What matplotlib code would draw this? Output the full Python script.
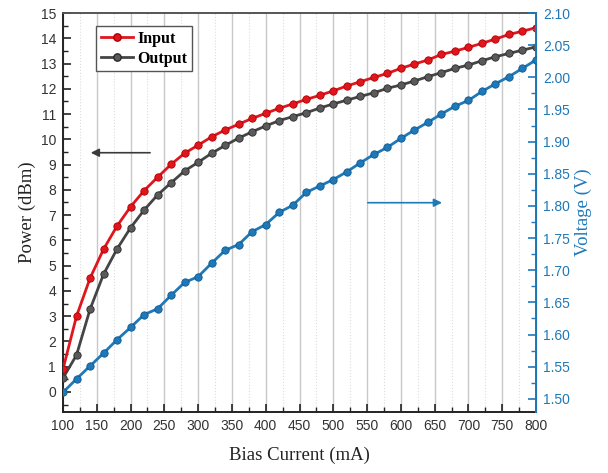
import numpy as np
import matplotlib
matplotlib.use('Agg')
import matplotlib.pyplot as plt
from matplotlib.ticker import MultipleLocator, FormatStrFormatter
from matplotlib.lines import Line2D

# data
current = list(range(100, 801, 20))

power_in = [0.9, 3.0, 4.5, 5.65, 6.57, 7.33, 7.97, 8.5, 9.01, 9.45,
            9.77, 10.1, 10.37, 10.6, 10.83, 11.03, 11.23, 11.4, 11.58, 11.74,
            11.92, 12.11, 12.28, 12.45, 12.61, 12.81, 12.98, 13.14, 13.36, 13.49,
            13.64, 13.8, 13.97, 14.15, 14.28, 14.42]

power_out = [0.55, 1.46, 3.27, 4.66, 5.66, 6.5, 7.2, 7.8, 8.28, 8.75,
             9.09, 9.45, 9.76, 10.05, 10.3, 10.53, 10.74, 10.9, 11.05, 11.24,
             11.4, 11.55, 11.7, 11.84, 12.02, 12.15, 12.31, 12.48, 12.64, 12.81,
             12.94, 13.11, 13.27, 13.4, 13.53, 13.66]

voltage = [1.510, 1.531, 1.551, 1.571, 1.592, 1.611, 1.631, 1.640, 1.661, 1.681,
           1.690, 1.711, 1.731, 1.740, 1.760, 1.771, 1.790, 1.801, 1.821, 1.831,
           1.841, 1.853, 1.867, 1.880, 1.891, 1.905, 1.918, 1.930, 1.943, 1.955,
           1.964, 1.978, 1.990, 2.001, 2.014, 2.027]

red = '#e0161f'
dark = '#454545'
blue = '#1f78b8'

serif = 'Liberation Serif'
sans = 'Liberation Sans'

fig = plt.figure(figsize=(6.08, 4.73), dpi=100)
ax = fig.add_axes([0.1036, 0.1296, 0.7780, 0.8429])
ax2 = ax.twinx()

# curves
ax.plot(current, power_in, '-o', color=red, lw=2.0, ms=5.3,
        mfc=red, mec='#b00000', mew=0.6, zorder=4)
ax.plot(current, power_out, '-o', color=dark, lw=2.0, ms=5.3,
        mfc='#5a5a5a', mec='#2a2a2a', mew=0.6, zorder=3)
ax2.plot(current, voltage, '-o', color=blue, lw=2.0, ms=5.3,
         mfc=blue, mec='#0f5a90', mew=0.6, zorder=3)

# axes ranges / ticks
ax.set_xlim(100, 800)
ax.set_ylim(-0.78, 15)
ax2.set_ylim(1.48, 2.10)

ax.xaxis.set_major_locator(MultipleLocator(50))
ax.xaxis.set_minor_locator(MultipleLocator(25))
ax.yaxis.set_major_locator(MultipleLocator(1))
ax.yaxis.set_minor_locator(MultipleLocator(0.5))
ax2.yaxis.set_major_locator(MultipleLocator(0.05))
ax2.yaxis.set_minor_locator(MultipleLocator(0.025))
ax2.yaxis.set_major_formatter(FormatStrFormatter('%.2f'))

ax.grid(True, which='major', axis='x', color='#c8c8c8', lw=1.0, ls='-')
ax.grid(True, which='minor', axis='x', color='#dcdcdc', lw=0.8, ls=':')
ax.set_axisbelow(True)

ax.tick_params(axis='both', which='major', direction='in', length=6, width=1.2,
               labelsize=10, labelcolor='#333333', colors='#222222', pad=5)
ax.tick_params(axis='both', which='minor', direction='in', length=3.5, width=1.0,
               colors='#222222')
ax.tick_params(axis='y', which='both', right=False)
ax.tick_params(axis='x', which='both', top=False)
ax2.tick_params(axis='y', which='major', direction='in', length=6, width=1.2,
                labelsize=10, colors=blue, pad=5)
ax2.tick_params(axis='y', which='minor', direction='in', length=3.5, width=1.0,
                colors=blue)

for lab in ax.get_xticklabels() + ax.get_yticklabels() + ax2.get_yticklabels():
    lab.set_fontfamily(sans)

for s in ['left', 'bottom', 'top']:
    ax.spines[s].set_linewidth(1.4)
    ax.spines[s].set_color('#222222')
ax.spines['top'].set_color('#555555')
ax2.spines['right'].set_color(blue)
ax2.spines['right'].set_linewidth(1.4)
ax2.spines['left'].set_visible(False)
ax2.spines['top'].set_visible(False)
ax2.spines['bottom'].set_visible(False)

ax.set_xlabel('Bias Current (mA)', fontfamily=serif, fontsize=13.5,
              color='#222222', labelpad=10)
ax.set_ylabel('Power (dBm)', fontfamily=serif, fontsize=13.5,
              color='#222222', labelpad=3)
ax2.set_ylabel('Voltage (V)', fontfamily=serif, fontsize=13.5,
               color=blue, labelpad=3)

# direction arrows
ax.annotate('', xy=(137, 9.47), xytext=(233, 9.47),
            arrowprops=dict(arrowstyle='-|>', color='#3a3a3a', lw=1.2,
                            mutation_scale=12))
ax2.annotate('', xy=(665, 1.805), xytext=(547, 1.805),
             arrowprops=dict(arrowstyle='-|>', color=blue, lw=1.2,
                             mutation_scale=12))

# legend
handles = [Line2D([], [], color=red, lw=2.0, marker='o', ms=5.3, mfc=red, mec='#b00000'),
           Line2D([], [], color=dark, lw=2.0, marker='o', ms=5.3, mfc='#5a5a5a', mec='#2a2a2a')]
leg = ax.legend(handles, ['Input', 'Output'], loc='upper left',
                bbox_to_anchor=(0.07, 0.968), fancybox=False, framealpha=1,
                edgecolor='#555555', handlelength=2.0, handletextpad=0.3,
                borderpad=0.3, labelspacing=0.25, borderaxespad=0,
                prop=dict(family=serif, weight='bold', size=11.5))
leg.get_frame().set_linewidth(1.0)
leg.set_zorder(10)

fig.savefig('out.png', dpi=100)
